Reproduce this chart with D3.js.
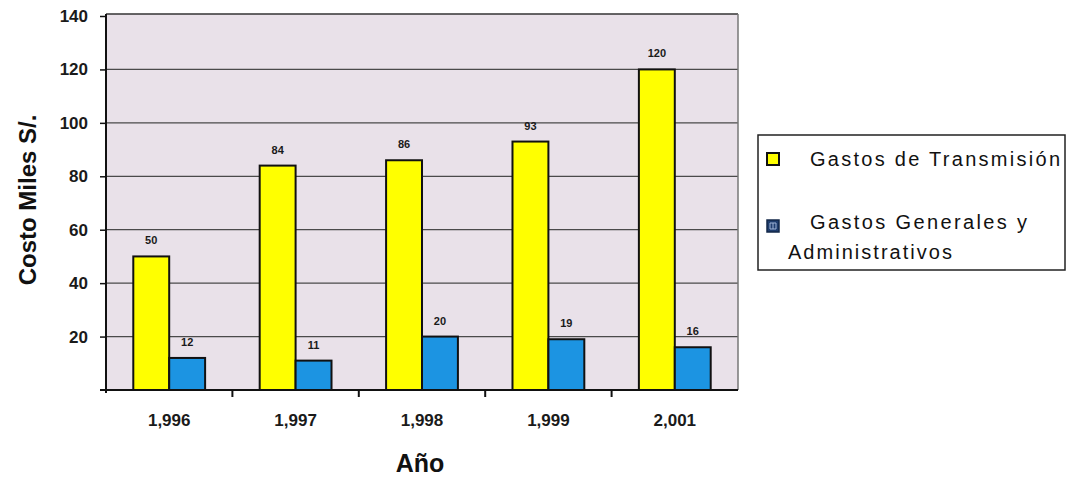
<!DOCTYPE html>
<html>
<head>
<meta charset="utf-8">
<script src="https://cdn.jsdelivr.net/npm/d3@7"></script>
<style>
  html, body { margin: 0; padding: 0; background: #fff; }
  svg { display: block; }
  text { font-family: "Liberation Sans", Arial, sans-serif; }
</style>
</head>
<body>
<svg id="chart" width="1069" height="481"></svg>
<script>
// Costs per year, in thousands of soles
const years = ["1,996", "1,997", "1,998", "1,999", "2,001"];
const seriesNames = ["Gastos de Transmisión", "Gastos Generales y Administrativos"];
const transmision = [50, 84, 86, 93, 120];
const generales = [12, 11, 20, 19, 16];
const yTicks = [20, 40, 60, 80, 100, 120, 140];

const seriesValues = [transmision, generales];
const colors = ["#ffff00", "#1c94e2"];

const svg = d3.select("#chart");
const plot = { left: 106, top: 16, right: 738, bottom: 390 };

const x0 = d3.scaleBand().domain(years).range([plot.left, plot.right]).padding(0);
const x1 = d3.scaleBand().domain(d3.range(seriesNames.length))
  .range([0, x0.bandwidth()]).paddingInner(0).paddingOuter(0.76);
const y = d3.scaleLinear().domain([0, 140]).range([plot.bottom, plot.top]);

// plot background
svg.append("rect")
  .attr("x", plot.left).attr("y", plot.top - 2)
  .attr("width", plot.right - plot.left).attr("height", plot.bottom - plot.top + 2)
  .attr("fill", "#e9e1e9");

// horizontal gridlines
svg.append("g").selectAll("line")
  .data(yTicks.filter(t => t < 140))
  .join("line")
  .attr("x1", plot.left).attr("x2", plot.right)
  .attr("y1", d => y(d)).attr("y2", d => y(d))
  .attr("stroke", "#4a4a4a").attr("stroke-width", 1.3);

// top and right frame
svg.append("line")
  .attr("x1", plot.left).attr("x2", plot.right)
  .attr("y1", plot.top - 2).attr("y2", plot.top - 2)
  .attr("stroke", "#333").attr("stroke-width", 1.5);
svg.append("line")
  .attr("x1", plot.right).attr("x2", plot.right)
  .attr("y1", plot.top - 2).attr("y2", plot.bottom)
  .attr("stroke", "#777").attr("stroke-width", 1.5);

// bars
const groups = svg.append("g").selectAll("g")
  .data(years)
  .join("g")
  .attr("transform", d => `translate(${x0(d)},0)`);

groups.selectAll("rect")
  .data((d, i) => seriesValues.map((vals, s) => ({ s, v: vals[i] })))
  .join("rect")
  .attr("x", d => x1(d.s))
  .attr("y", d => y(d.v))
  .attr("width", x1.bandwidth())
  .attr("height", d => y(0) - y(d.v))
  .attr("fill", d => colors[d.s])
  .attr("stroke", "#111")
  .attr("stroke-width", 2);

groups.selectAll("text")
  .data((d, i) => seriesValues.map((vals, s) => ({ s, v: vals[i] })))
  .join("text")
  .attr("x", d => x1(d.s) + x1.bandwidth() / 2)
  .attr("y", d => y(d.v) - 12)
  .attr("text-anchor", "middle")
  .attr("font-size", 11)
  .attr("font-weight", "bold")
  .attr("fill", "#1a1a1a")
  .text(d => d.v);

// y axis
const yAxis = d3.axisLeft(y).tickValues(yTicks).tickSize(6).tickPadding(12);
const gy = svg.append("g").attr("transform", `translate(${plot.left},0)`).call(yAxis);
gy.select(".domain").attr("stroke", "#111").attr("stroke-width", 2)
  .attr("d", `M0,${plot.top - 2}V${plot.bottom + 3}`);
gy.selectAll(".tick line").attr("stroke", "#111").attr("stroke-width", 1.5);
gy.selectAll(".tick text")
  .attr("font-family", "'Liberation Sans', Arial, sans-serif")
  .attr("font-size", 17).attr("font-weight", "bold").attr("fill", "#1a1a1a");

// x axis: baseline with ticks at category boundaries
const gx = svg.append("g");
gx.append("line")
  .attr("x1", plot.left - 6).attr("x2", plot.right)
  .attr("y1", plot.bottom).attr("y2", plot.bottom)
  .attr("stroke", "#111").attr("stroke-width", 2);
gx.selectAll("line.tk")
  .data(years.slice(1))
  .join("line").attr("class", "tk")
  .attr("x1", d => x0(d)).attr("x2", d => x0(d))
  .attr("y1", plot.bottom).attr("y2", plot.bottom + 7)
  .attr("stroke", "#111").attr("stroke-width", 2);
gx.selectAll("text")
  .data(years)
  .join("text")
  .attr("x", d => x0(d) + x0.bandwidth() / 2)
  .attr("y", 426)
  .attr("text-anchor", "middle")
  .attr("font-size", 17).attr("font-weight", "bold").attr("fill", "#1a1a1a")
  .text(d => d);

// axis titles
svg.append("text")
  .attr("x", 420).attr("y", 472)
  .attr("text-anchor", "middle")
  .attr("font-size", 25).attr("font-weight", "bold").attr("fill", "#111")
  .text("Año");
svg.append("text")
  .attr("transform", "translate(36,200) rotate(-90)")
  .attr("text-anchor", "middle")
  .attr("font-size", 24).attr("font-weight", "bold").attr("fill", "#111")
  .text("Costo Miles S/.");

// legend
const lg = svg.append("g");
lg.append("rect")
  .attr("x", 758).attr("y", 135).attr("width", 307).attr("height", 135)
  .attr("fill", "#fff").attr("stroke", "#222").attr("stroke-width", 1.5);
lg.append("rect")
  .attr("x", 767).attr("y", 153).attr("width", 12).attr("height", 12)
  .attr("fill", colors[0]).attr("stroke", "#111").attr("stroke-width", 2);
lg.append("rect")
  .attr("x", 767).attr("y", 220).attr("width", 12).attr("height", 12)
  .attr("fill", "#1f3d6e").attr("stroke", "#13284a").attr("stroke-width", 1.5);
lg.append("path")
  .attr("d", "M770,223H776V229H770Z M773,223V229")
  .attr("fill", "none").attr("stroke", "#9fb4d6").attr("stroke-width", 1);

const legendFont = 20;
lg.append("text")
  .attr("x", 810).attr("y", 166)
  .attr("font-size", legendFont).attr("fill", "#111")
  .attr("textLength", 250).attr("lengthAdjust", "spacing")
  .text(seriesNames[0]);
lg.append("text")
  .attr("x", 810).attr("y", 229)
  .attr("font-size", legendFont).attr("fill", "#111")
  .attr("textLength", 217).attr("lengthAdjust", "spacing")
  .text("Gastos Generales y");
lg.append("text")
  .attr("x", 788).attr("y", 259)
  .attr("font-size", legendFont).attr("fill", "#111")
  .attr("textLength", 164).attr("lengthAdjust", "spacing")
  .text("Administrativos");
</script>
</body>
</html>
